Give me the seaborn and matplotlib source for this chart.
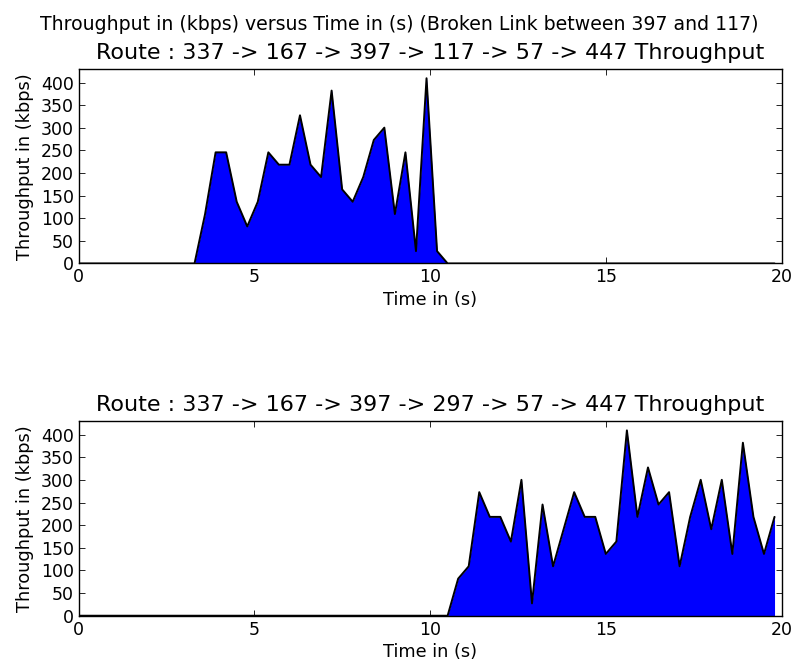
import numpy as np
import pandas as pd
import matplotlib
matplotlib.use("Agg")
import matplotlib.pyplot as plt
import seaborn as sns

# Sample times (s), one sample every 0.3 s
time_s = np.round(np.arange(67) * 0.3, 1)

# Throughput (kbps) on the route through 117 (link breaks after ~10 s)
route_117 = [
    0.0, 0.0, 0.0, 0.0, 0.0, 0.0, 0.0, 0.0, 0.0, 0.0, 0.0, 0.0,
    109.2, 245.7, 245.7, 136.5, 81.9, 136.5, 245.7, 218.4, 218.4, 327.6,
    218.4, 191.1, 382.2, 163.8, 136.5, 191.1, 273.0, 300.3, 109.2, 245.7,
    27.3, 409.5, 27.3,
    0.0, 0.0, 0.0, 0.0, 0.0, 0.0, 0.0, 0.0, 0.0, 0.0, 0.0, 0.0, 0.0, 0.0,
    0.0, 0.0, 0.0, 0.0, 0.0, 0.0, 0.0, 0.0, 0.0, 0.0, 0.0, 0.0, 0.0, 0.0,
    0.0, 0.0, 0.0, 0.0,
]

# Throughput (kbps) on the alternative route through 297
route_297 = [
    0.0, 0.0, 0.0, 0.0, 0.0, 0.0, 0.0, 0.0, 0.0, 0.0, 0.0, 0.0,
    0.0, 0.0, 0.0, 0.0, 0.0, 0.0, 0.0, 0.0, 0.0, 0.0, 0.0, 0.0,
    0.0, 0.0, 0.0, 0.0, 0.0, 0.0, 0.0, 0.0, 0.0, 0.0, 0.0, 0.0,
    81.9, 109.2, 273.0, 218.4, 218.4, 163.8, 300.3, 27.3, 245.7, 109.2,
    191.1, 273.0, 218.4, 218.4, 136.5, 163.8, 409.5, 218.4, 327.6, 245.7,
    273.0, 109.2, 218.4, 300.3, 191.1, 300.3, 136.5, 382.2, 218.4, 136.5,
    218.4,
]

titles = [
    "Route : 337 -> 167 -> 397 -> 117 -> 57 -> 447 Throughput",
    "Route : 337 -> 167 -> 397 -> 297 -> 57 -> 447 Throughput",
]
suptitle = "Throughput in (kbps) versus Time in (s) (Broken Link between 397 and 117)"
x_ticks = [0, 5, 10, 15, 20]
y_ticks = [0, 50, 100, 150, 200, 250, 300, 350, 400]

sns.set_style("ticks")
plt.rcParams.update({
    "font.family": ["DejaVu Sans"],
    "font.size": 12.5,
    "xtick.direction": "in",
    "ytick.direction": "in",
    "xtick.top": True,
    "ytick.right": True,
    "xtick.major.size": 4,
    "ytick.major.size": 4,
    "xtick.major.width": 0.6,
    "ytick.major.width": 0.6,
    "xtick.labelsize": 12.5,
    "ytick.labelsize": 12.5,
    "axes.linewidth": 1.0,
    "axes.edgecolor": "black",
    "axes.titlesize": 16,
    "axes.labelsize": 12.8,
    "text.color": "black",
    "axes.labelcolor": "black",
    "xtick.color": "black",
    "ytick.color": "black",
})

fig = plt.figure(figsize=(7.98, 6.62), dpi=100)
fig.patch.set_facecolor("white")

positions = [
    [0.0984, 0.602, 0.881, 0.2938],
    [0.0984, 0.0699, 0.881, 0.294],
]

for pos, series, title in zip(positions, [route_117, route_297], titles):
    ax = fig.add_axes(pos)
    df = pd.DataFrame({"time": time_s, "kbps": series})
    ax.fill_between(df["time"], df["kbps"], color="#0000ff", linewidth=0)
    sns.lineplot(data=df, x="time", y="kbps", color="black", linewidth=1.4, ax=ax)
    ax.set_xlim(0, 20)
    ax.set_ylim(0, 430)
    ax.set_xticks(x_ticks)
    ax.set_yticks(y_ticks)
    ax.set_xlabel("Time in (s)", labelpad=3)
    ax.set_ylabel("Throughput in (kbps)", labelpad=5)
    ax.set_title(title, pad=7)
    for s in ax.spines.values():
        s.set_visible(True)
        s.set_zorder(3)

fig.suptitle(suptitle, y=0.978, fontsize=13.6)
fig.savefig("out.png", dpi=100, facecolor="white")
